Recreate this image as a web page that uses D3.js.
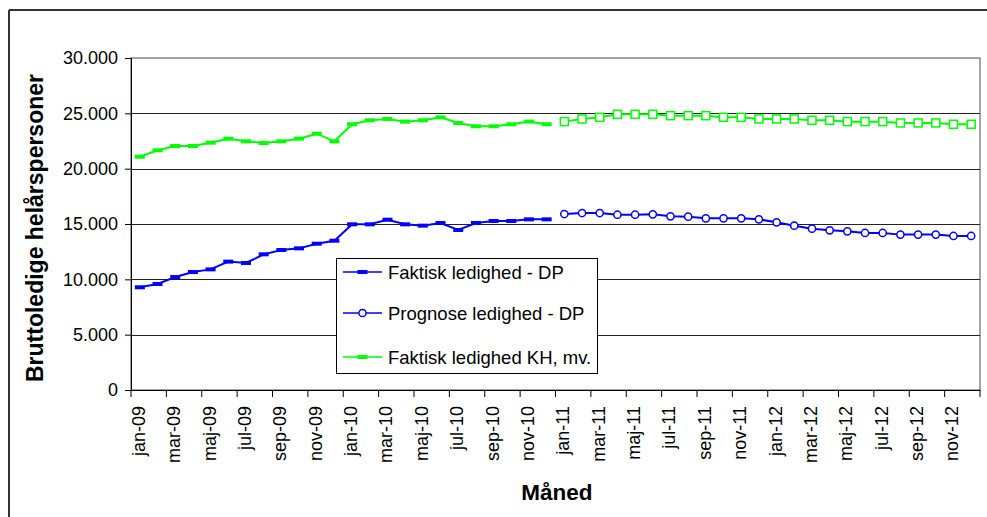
<!DOCTYPE html>
<html>
<head>
<meta charset="utf-8">
<script src="https://cdn.jsdelivr.net/npm/d3@7"></script>
<style>
  html, body { margin: 0; padding: 0; background: #fff; }
  svg { display: block; font-family: "Liberation Sans", Arial, sans-serif; }
</style>
</head>
<body>
<svg id="chart" width="987" height="517"></svg>
<script>
// ---- data ----
const monthNames = ["jan","feb","mar","apr","maj","jun","jul","aug","sep","okt","nov","dec"];
const years = ["09","10","11","12"];
const months = [];
years.forEach(yr => monthNames.forEach(m => months.push(m + "-" + yr)));

const actualMonths = months.slice(0, 24);
const forecastMonths = months.slice(24);

const faktiskDP = [9280, 9580, 10210, 10660, 10900, 11600, 11480, 12260, 12650, 12800, 13220, 13490,
                   14970, 14970, 15390, 14970, 14850, 15090, 14460, 15090, 15270, 15270, 15420, 15420];
const prognoseDP = [15900, 15990, 15990, 15840, 15840, 15870, 15690, 15660, 15510, 15510, 15510, 15420,
                    15150, 14850, 14580, 14430, 14340, 14190, 14190, 14040, 14040, 14040, 13920, 13920];
const faktiskKH = [21080, 21660, 22050, 22050, 22350, 22710, 22470, 22320, 22470, 22710, 23160, 22470,
                   24010, 24370, 24490, 24250, 24370, 24640, 24130, 23830, 23830, 24010, 24250, 24010];
const prognoseKH = [24250, 24490, 24640, 24910, 24910, 24910, 24790, 24790, 24790, 24640, 24640, 24490,
                    24490, 24490, 24370, 24370, 24250, 24250, 24250, 24130, 24130, 24130, 24010, 24010];

const yTicks = [0, 5000, 10000, 15000, 20000, 25000, 30000];
const xLabelMonths = months.filter((m, i) => i % 2 === 0);

const legendLabels = ["Faktisk ledighed - DP", "Prognose ledighed - DP", "Faktisk ledighed KH, mv."];

(function () {
// ---- layout ----
const svg = d3.select("#chart");
const pL = 131, pR = 980, pT = 58, pB = 390;

const x = d3.scaleBand().domain(months).range([pL, pR]).padding(0);
const y = d3.scaleLinear().domain([0, 30000]).range([pB, pT]);
const cx = m => x(m) + x.bandwidth() / 2;

const fmt = v => d3.format(",")(v).replace(/,/g, ".");

// outer frame (partial, as in reference)
svg.append("line").attr("x1", 9).attr("x2", 987).attr("y1", 10).attr("y2", 10)
  .attr("stroke", "#333").attr("stroke-width", 2);
svg.append("line").attr("x1", 9).attr("x2", 9).attr("y1", 10).attr("y2", 517)
  .attr("stroke", "#333").attr("stroke-width", 2);

// plot area border
svg.append("rect").attr("x", pL).attr("y", pT).attr("width", pR - pL).attr("height", pB - pT)
  .attr("fill", "none").attr("stroke", "#888").attr("stroke-width", 1.5);

// gridlines
svg.append("g").selectAll("line").data(yTicks.filter(t => t > 0 && t < 30000)).join("line")
  .attr("x1", pL).attr("x2", pR)
  .attr("y1", d => Math.round(y(d)) + 0.5).attr("y2", d => Math.round(y(d)) + 0.5)
  .attr("stroke", "#222").attr("stroke-width", 1);

// y axis
const yAxis = d3.axisLeft(y).tickValues(yTicks).tickSize(6).tickPadding(7).tickFormat(fmt);
const gy = svg.append("g").attr("transform", `translate(${pL},0)`).call(yAxis);
gy.select(".domain").attr("stroke", "#000");
gy.selectAll(".tick line").attr("stroke", "#000");
gy.selectAll(".tick text").attr("font-size", 18).attr("fill", "#000")
  .attr("font-family", "'Liberation Sans', Arial, sans-serif");

// x axis: ticks at boundaries every 2 months
const boundaryIdx = d3.range(0, months.length + 1, 2);
const xs = i => pL + i * x.bandwidth();
svg.append("line").attr("x1", pL).attr("x2", pR).attr("y1", pB + 0.5).attr("y2", pB + 0.5)
  .attr("stroke", "#000");
svg.append("g").selectAll("line").data(boundaryIdx).join("line")
  .attr("x1", d => xs(d)).attr("x2", d => xs(d))
  .attr("y1", pB).attr("y2", pB + 7)
  .attr("stroke", "#000");
svg.append("g").selectAll("text").data(xLabelMonths).join("text")
  .attr("transform", d => `translate(${cx(d) + 5},${pB + 16}) rotate(-90)`)
  .attr("text-anchor", "end")
  .attr("font-size", 18).attr("fill", "#000")
  .text(d => d);

// axis titles
svg.append("text")
  .attr("transform", `translate(43,228) rotate(-90)`)
  .attr("text-anchor", "middle").attr("font-weight", "bold").attr("font-size", 23)
  .text("Bruttoledige helårspersoner");
svg.append("text")
  .attr("x", 557).attr("y", 500)
  .attr("text-anchor", "middle").attr("font-weight", "bold").attr("font-size", 22.5)
  .text("Måned");

// series
const blue = "#0000FF", green = "#00FF00";
const line = d3.line().x(d => cx(d.m)).y(d => y(d.v));
const toPts = (ms, vs) => ms.map((m, i) => ({ m, v: vs[i] }));

function drawSeries(pts, color, marker) {
  svg.append("path").datum(pts).attr("d", line)
    .attr("fill", "none").attr("stroke", color).attr("stroke-width", 2);
  const g = svg.append("g");
  if (marker === "dash") {
    g.selectAll("rect").data(pts).join("rect")
      .attr("x", d => cx(d.m) - 5).attr("y", d => y(d.v) - 2)
      .attr("width", 10).attr("height", 4).attr("fill", color);
  } else if (marker === "circle") {
    g.selectAll("circle").data(pts).join("circle")
      .attr("cx", d => cx(d.m)).attr("cy", d => y(d.v)).attr("r", 3.6)
      .attr("fill", "#fff").attr("stroke", color).attr("stroke-width", 1.5);
  } else if (marker === "square") {
    g.selectAll("rect").data(pts).join("rect")
      .attr("x", d => cx(d.m) - 4).attr("y", d => y(d.v) - 4)
      .attr("width", 8).attr("height", 8)
      .attr("fill", "#fff").attr("stroke", color).attr("stroke-width", 1.5);
  }
}

drawSeries(toPts(actualMonths, faktiskKH), green, "dash");
drawSeries(toPts(forecastMonths, prognoseKH), green, "square");
drawSeries(toPts(actualMonths, faktiskDP), blue, "dash");
drawSeries(toPts(forecastMonths, prognoseDP), blue, "circle");

// legend
const lg = svg.append("g");
lg.append("rect").attr("x", 336.5).attr("y", 258.5).attr("width", 261).attr("height", 115)
  .attr("fill", "#fff").attr("stroke", "#000").attr("stroke-width", 1);
const legendY = [272, 313, 357];
const legendStyles = [[blue, "dash"], [blue, "circle"], [green, "dash"]];
legendLabels.forEach((lab, i) => {
  const yy = legendY[i];
  const [c, mk] = legendStyles[i];
  lg.append("line").attr("x1", 343).attr("x2", 382).attr("y1", yy).attr("y2", yy)
    .attr("stroke", c).attr("stroke-width", 1.5);
  if (mk === "dash") {
    lg.append("rect").attr("x", 357.5).attr("y", yy - 2).attr("width", 10).attr("height", 4).attr("fill", c);
  } else {
    lg.append("circle").attr("cx", 362.5).attr("cy", yy).attr("r", 3.6)
      .attr("fill", "#fff").attr("stroke", c).attr("stroke-width", 1.5);
  }
  lg.append("text").attr("x", 388).attr("y", yy + 6.5).attr("font-size", 18.5).attr("fill", "#000").text(lab);
});
})();
</script>
</body>
</html>
